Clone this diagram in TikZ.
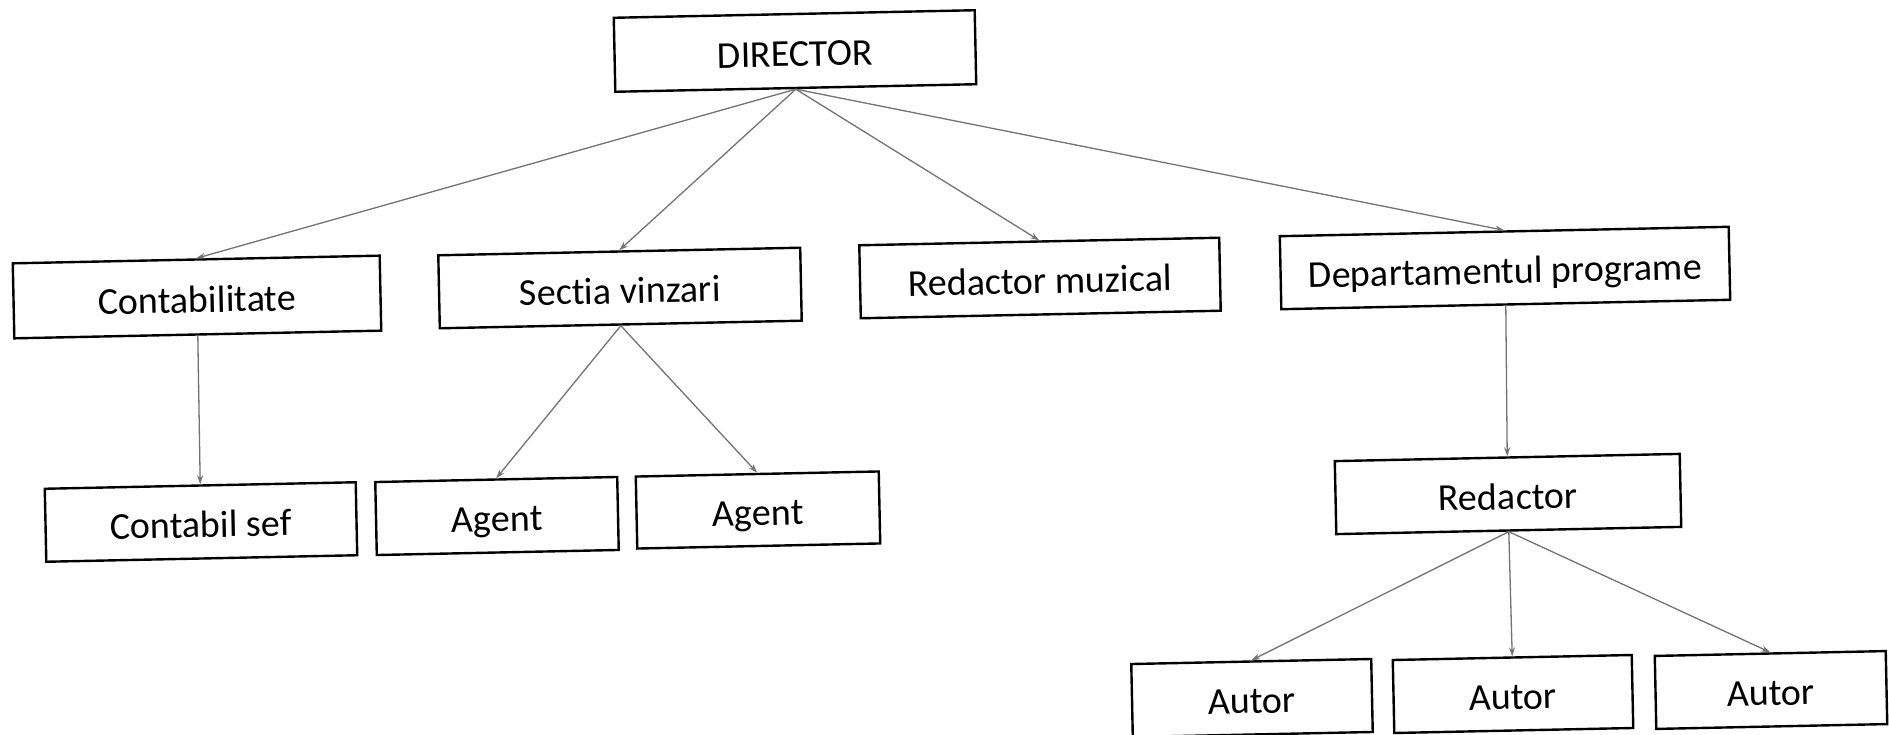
\documentclass[tikz,border=0pt]{standalone}
\usepackage{fontspec}
\setmainfont{Carlito}[Ligatures=NoCommon]
\usetikzlibrary{arrows.meta}
\begin{document}
\begin{tikzpicture}[x=1pt,y=-1pt,
  box/.style={draw=black, line width=2.4pt, rectangle, inner sep=0pt,
    minimum height=73pt, rotate=1.2, font=\fontsize{38}{46}\selectfont,
    text height=31pt, text depth=0pt},
  link/.style={draw=black!55, line width=1.3pt, -{Stealth[length=9pt,width=6pt]}}]
\useasboundingbox[fill=white] (0,0) rectangle (1889,735);
% top
\node[box, minimum width=361pt, minimum height=74pt] (dir) at (795,51) {DIRECTOR};
% level 1
\node[box, minimum width=367pt, minimum height=75pt] (cont) at (197,297) {Contabilitate};
\node[box, minimum width=362pt] (sect) at (620,288) {Sectia vinzari};
\node[box, minimum width=360pt] (redm) at (1040,278) {Redactor muzical};
\node[box, minimum width=449pt] (dep) at (1505,268) {Departamentul programe};
% level 2
\node[box, minimum width=311pt] (csef) at (201,522) {Contabil sef};
\node[box, minimum width=242pt] (ag1) at (497,516) {Agent};
\node[box, minimum width=243pt, minimum height=72pt] (ag2) at (758,510) {Agent};
\node[box, minimum width=345pt] (red) at (1508,494) {Redactor};
% level 3
\node[box, minimum width=240pt] (au1) at (1252,698) {Autor};
\node[box, minimum width=239pt] (au2) at (1513,694) {Autor};
\node[box, minimum width=231pt] (au3) at (1771,690) {Autor};
% connectors
\draw[link] (dir.south) -- (cont.north);
\draw[link] (dir.south) -- (sect.north);
\draw[link] (dir.south) -- (redm.north);
\draw[link] (dir.south) -- (dep.north);
\draw[link] (cont.south) -- (csef.north);
\draw[link] (sect.south) -- (ag1.north);
\draw[link] (sect.south) -- (ag2.north);
\draw[link] (dep.south) -- (red.north);
\draw[link] (red.south) -- (au1.north);
\draw[link] (red.south) -- (au2.north);
\draw[link] (red.south) -- (au3.north);
\end{tikzpicture}
\end{document}
